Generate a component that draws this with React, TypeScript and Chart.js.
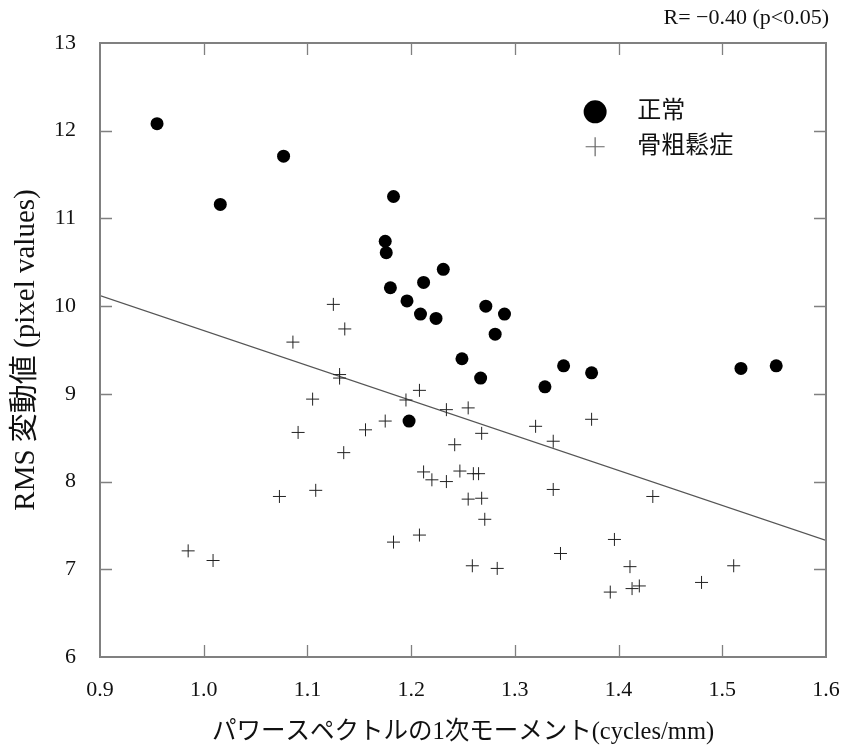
import React, { useEffect, useRef } from 'react';
import { Chart, registerables } from 'chart.js';

Chart.register(...registerables);

const seriesNames = ['正常', '骨粗鬆症'];
const xTitle = 'パワースペクトルの1次モーメント(cycles/mm)';
const yTitle = 'RMS 変動値 (pixel values)';
const corrText = 'R= \u22120.40 (p<0.05)';

const xTickValues = [0.9, 1.0, 1.1, 1.2, 1.3, 1.4, 1.5, 1.6];
const yTickValues = [6, 7, 8, 9, 10, 11, 12, 13];

// 正常 (normal)
const normalX = [0.955, 1.077, 1.016, 1.183, 1.175, 1.176, 1.231, 1.212, 1.180, 1.196, 1.209, 1.224,
  1.272, 1.290, 1.281, 1.249, 1.267, 1.329, 1.347, 1.374, 1.518, 1.552, 1.198];
const normalY = [12.08, 11.71, 11.16, 11.25, 10.74, 10.61, 10.42, 10.27, 10.21, 10.06, 9.91, 9.86,
  10.00, 9.91, 9.68, 9.40, 9.18, 9.08, 9.32, 9.24, 9.29, 9.32, 8.69];

// 骨粗鬆症 (osteoporosis)
const osteoX = [1.125, 1.136, 1.086, 1.131, 1.131, 1.105, 1.208, 1.195, 1.234, 1.255, 1.175, 1.156,
  1.091, 1.135, 1.242, 1.212, 1.220, 1.234, 1.247, 1.108, 1.073, 1.255, 1.208, 1.183, 0.985, 1.009,
  1.268, 1.260, 1.265, 1.268, 1.271, 1.320, 1.337, 1.374, 1.337, 1.433, 1.259, 1.283, 1.344, 1.396,
  1.411, 1.392, 1.413, 1.420, 1.480, 1.511];
const osteoY = [10.02, 9.74, 9.59, 9.22, 9.18, 8.94, 9.04, 8.93, 8.82, 8.84, 8.69, 8.59,
  8.56, 8.33, 8.42, 8.11, 8.02, 8.00, 8.12, 7.90, 7.83, 7.80, 7.39, 7.31, 7.21, 7.10,
  8.55, 8.09, 8.09, 7.81, 7.57, 8.63, 8.46, 8.71, 7.91, 7.83, 7.04, 7.01, 7.18, 7.34,
  7.03, 6.74, 6.78, 6.81, 6.85, 7.04];

// regression line endpoints
const fitX = [0.9, 1.6];
const fitY = [10.12, 7.33];

const SERIF = '"Liberation Serif", "Noto Sans CJK JP", serif';

const framePlugin = {
  id: 'frameAndExtras',
  afterDatasetsDraw(chart: any) {
    const { ctx, chartArea, scales } = chart;
    const { left, right, top, bottom } = chartArea;
    const xs = scales.x;
    const ys = scales.y;
    ctx.save();
    ctx.strokeStyle = '#808080';
    ctx.lineWidth = 2;
    ctx.strokeRect(left, top, right - left, bottom - top);
    ctx.lineWidth = 1.3;
    const tl = 12;
    ctx.beginPath();
    xs.ticks.forEach((t: any) => {
      const px = Math.round(xs.getPixelForValue(t.value)) + 0.5;
      if (px <= left + 2 || px >= right - 2) return;
      ctx.moveTo(px, bottom);
      ctx.lineTo(px, bottom - tl);
      ctx.moveTo(px, top);
      ctx.lineTo(px, top + tl);
    });
    ys.ticks.forEach((t: any) => {
      const py = Math.round(ys.getPixelForValue(t.value)) + 0.5;
      if (py <= top + 2 || py >= bottom - 2) return;
      ctx.moveTo(left, py);
      ctx.lineTo(left + tl, py);
      ctx.moveTo(right, py);
      ctx.lineTo(right - tl, py);
    });
    ctx.stroke();

    // legend
    const lx = left + (right - left) * 0.682;
    const ly1 = top + (bottom - top) * 0.112;
    const ly2 = ly1 + 35;
    ctx.fillStyle = '#000';
    ctx.beginPath();
    ctx.arc(lx, ly1, 11.5, 0, Math.PI * 2);
    ctx.fill();
    ctx.strokeStyle = '#666';
    ctx.lineWidth = 1.2;
    ctx.beginPath();
    ctx.moveTo(lx - 9.5, ly2);
    ctx.lineTo(lx + 9.5, ly2);
    ctx.moveTo(lx, ly2 - 9.5);
    ctx.lineTo(lx, ly2 + 9.5);
    ctx.stroke();
    ctx.fillStyle = '#111';
    ctx.font = '24px ' + SERIF;
    ctx.textBaseline = 'middle';
    ctx.textAlign = 'left';
    ctx.fillText(seriesNames[0], lx + 42, ly1);
    ctx.fillText(seriesNames[1], lx + 42, ly2);

    // correlation text
    ctx.font = '22px ' + SERIF;
    ctx.textAlign = 'right';
    ctx.fillStyle = '#111';
    ctx.fillText(corrText, right + 3, 18);
    ctx.restore();
  },
};

export default function App() {
  const ref = useRef<HTMLCanvasElement | null>(null);
  useEffect(() => {
    if (!ref.current) return;
    const chart = new Chart(ref.current, {
      type: 'scatter',
      data: {
        datasets: [
          {
            label: seriesNames[0],
            data: normalX.map((x, i) => ({ x, y: normalY[i] })),
            pointStyle: 'circle',
            pointRadius: 6.5,
            backgroundColor: '#000',
            borderColor: '#000',
            borderWidth: 0,
          },
          {
            label: seriesNames[1],
            data: osteoX.map((x, i) => ({ x, y: osteoY[i] })),
            pointStyle: 'cross',
            pointRadius: 6.5,
            borderColor: '#222',
            borderWidth: 1,
          },
          {
            type: 'line' as any,
            label: 'fit',
            data: fitX.map((x, i) => ({ x, y: fitY[i] })),
            pointRadius: 0,
            borderColor: '#555',
            borderWidth: 1.2,
            showLine: true,
          },
        ],
      },
      options: {
        animation: false,
        responsive: true,
        maintainAspectRatio: false,
        layout: { padding: { left: 0, right: 17, top: 43, bottom: 0 } },
        plugins: { legend: { display: false }, tooltip: { enabled: false } },
        scales: {
          x: {
            type: 'linear',
            min: 0.9,
            max: 1.6,
            afterBuildTicks: (s: any) => { s.ticks = xTickValues.map((v) => ({ value: v })); },
            afterFit: (s: any) => { s.height = 88; s.paddingLeft = 0; s.paddingRight = 0; },
            grid: { display: false },
            border: { display: false },
            ticks: {
              padding: 12,
              color: '#111',
              font: { family: SERIF, size: 22 },
              callback: (v: any) => Number(v).toFixed(1),
            },
            title: {
              display: true,
              text: xTitle,
              color: '#111',
              font: { family: SERIF, size: 24.5, lineHeight: 1 },
              padding: { top: 0, bottom: 0 },
            },
          },
          y: {
            type: 'linear',
            min: 6,
            max: 13,
            afterBuildTicks: (s: any) => { s.ticks = yTickValues.map((v) => ({ value: v })); },
            afterFit: (s: any) => { s.width = 100; s.paddingTop = 0; s.paddingBottom = 0; },
            grid: { display: false },
            border: { display: false },
            ticks: {
              padding: 16,
              color: '#111',
              font: { family: SERIF, size: 22 },
              callback: (v: any) => String(v),
            },
            title: {
              display: true,
              text: yTitle,
              color: '#111',
              font: { family: SERIF, size: 29, lineHeight: 1 },
              padding: { top: 12, bottom: 0 },
            },
          },
        },
      },
      plugins: [framePlugin],
    });
    return () => chart.destroy();
  }, []);
  return (
    <div style={{ position: 'absolute', left: 0, top: 0, width: 843, height: 745, background: '#fff' }}>
      <canvas ref={ref} />
    </div>
  );
}
